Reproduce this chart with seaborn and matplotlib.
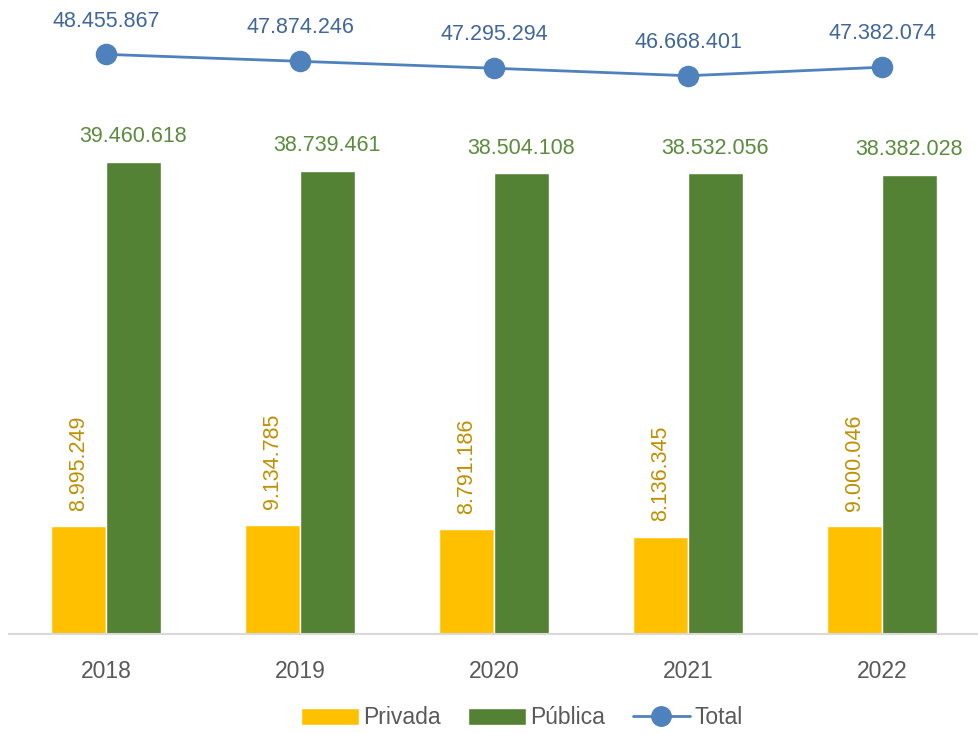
import numpy as np
import pandas as pd
import matplotlib
matplotlib.use("Agg")
import matplotlib.pyplot as plt
from matplotlib.patches import Patch
from matplotlib.lines import Line2D
import seaborn as sns

# data
years = ["2018", "2019", "2020", "2021", "2022"]
privada = [8995249, 9134785, 8791186, 8136345, 9000046]
publica = [39460618, 38739461, 38504108, 38532056, 38382028]
total = [48455867, 47874246, 47295294, 46668401, 47382074]

c_priv = "#FFC000"
c_pub = "#548235"
c_tot = "#4F81BD"

sns.set_theme(style="white")
plt.rcParams['font.family'] = ['Liberation Sans', 'DejaVu Sans']

def fmt(v):
    return f"{v:,}".replace(",", ".")

df = pd.DataFrame({
    "year": years * 2,
    "value": privada + publica,
    "tipo": ["Privada"] * 5 + ["Pública"] * 5,
})

fig = plt.figure(figsize=(9.79, 7.34), dpi=100)
ax = fig.add_axes([9 / 979, 100 / 734, 970 / 979, 634 / 734])

sns.barplot(data=df, x="year", y="value", hue="tipo",
            palette={"Privada": c_priv, "Pública": c_pub},
            width=0.565, saturation=1, ax=ax, legend=False)
sns.pointplot(x=years, y=total, color=c_tot, markers="o",
              markersize=14, linewidth=2.0, ax=ax)

# data labels
for i in range(len(years)):
    off = 0.565 / 4
    ax.annotate(fmt(privada[i]), (i - off, privada[i]), xytext=(0, 11),
                textcoords="offset points", rotation=90, ha="center", va="bottom",
                fontsize=15.5, color="#BF9000")
    ax.annotate(fmt(publica[i]), (i + off, publica[i]), xytext=(0, 18),
                textcoords="offset points", ha="center", va="center",
                fontsize=15.5, color="#5B8C3E")
    ax.annotate(fmt(total[i]), (i, total[i]), xytext=(0, 24),
                textcoords="offset points", ha="center", va="center",
                fontsize=15.5, color="#41679A")

ax.set_ylim(0, 53.0e6)
ax.set_xlim(-0.5, 4.5)
ax.set_xlabel("")
ax.set_ylabel("")
ax.set_yticks([])
for s in ["left", "right", "top"]:
    ax.spines[s].set_visible(False)
ax.spines["bottom"].set_color("#D9D9D9")
ax.spines["bottom"].set_linewidth(1.5)
ax.tick_params(axis="x", length=0, pad=19, labelsize=16.5, labelcolor="#595959")

handles = [
    Patch(facecolor=c_priv, label="Privada"),
    Patch(facecolor=c_pub, label="Pública"),
    Line2D([0], [0], color=c_tot, lw=2.0, marker="o", markersize=14, label="Total"),
]
leg = fig.legend(handles=handles, loc="center", bbox_to_anchor=(522 / 979, 1 - 718 / 734),
                 ncol=3, frameon=False, fontsize=16.5, handlelength=2.5,
                 handleheight=0.75, columnspacing=1.2, handletextpad=0.2)
for t in leg.get_texts():
    t.set_color("#595959")

fig.savefig("out.png", dpi=100)
